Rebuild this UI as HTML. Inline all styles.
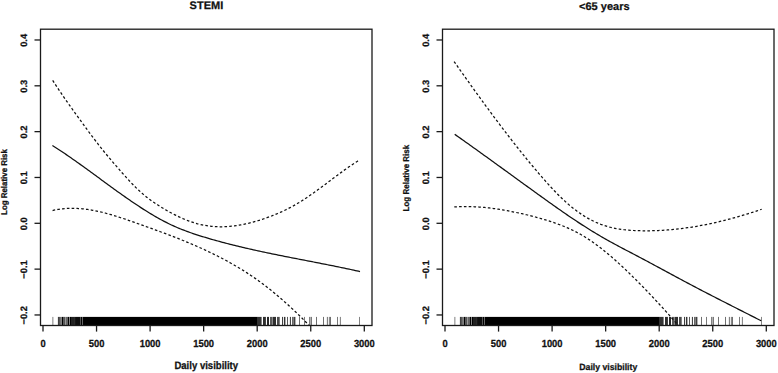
<!DOCTYPE html>
<html><head><meta charset="utf-8"><style>
html,body{margin:0;padding:0;background:#fff;}
body{width:778px;height:373px;overflow:hidden;}
svg{display:block;}
.t{font-family:"Liberation Sans",sans-serif;font-weight:bold;font-size:9.5px;fill:#111;stroke:#111;stroke-width:0.25px;text-rendering:geometricPrecision;}
</style></head><body>
<svg width="778" height="373" viewBox="0 0 778 373">
<rect width="778" height="373" fill="#fff"/>
<clipPath id="cl"><rect x="40.5" y="29.2" width="331.5" height="296.3"/></clipPath>
<rect x="52.30" y="316.9" width="1.10" height="8.40" fill="rgb(140,140,140)"/>
<rect x="57.90" y="316.9" width="2.00" height="8.40" fill="rgb(64,64,64)"/>
<rect x="59.90" y="316.9" width="2.00" height="8.40" fill="rgb(115,115,115)"/>
<rect x="62.00" y="316.9" width="1.10" height="8.40" fill="rgb(0,0,0)"/>
<rect x="63.10" y="316.9" width="0.60" height="8.40" fill="rgb(64,64,64)"/>
<rect x="63.70" y="316.9" width="1.00" height="8.40" fill="rgb(0,0,0)"/>
<rect x="64.90" y="316.9" width="1.10" height="8.40" fill="rgb(153,153,153)"/>
<rect x="66.00" y="316.9" width="2.00" height="8.40" fill="rgb(102,102,102)"/>
<rect x="68.00" y="316.9" width="1.10" height="8.40" fill="rgb(0,0,0)"/>
<rect x="69.10" y="316.9" width="0.80" height="8.40" fill="rgb(128,128,128)"/>
<rect x="69.90" y="316.9" width="1.10" height="8.40" fill="rgb(0,0,0)"/>
<rect x="71.00" y="316.9" width="3.10" height="8.40" fill="rgb(33,33,33)"/>
<rect x="74.10" y="316.9" width="1.90" height="8.40" fill="rgb(20,20,20)"/>
<rect x="76.00" y="316.9" width="4.00" height="8.40" fill="rgb(13,13,13)"/>
<rect x="80.00" y="316.9" width="0.70" height="8.40" fill="rgb(64,64,64)"/>
<rect x="80.70" y="316.9" width="1.50" height="8.40" fill="rgb(0,0,0)"/>
<rect x="82.20" y="316.9" width="0.80" height="8.40" fill="rgb(76,76,76)"/>
<rect x="83.00" y="316.9" width="174.80" height="8.40" fill="rgb(0,0,0)"/>
<rect x="257.80" y="316.9" width="3.80" height="8.40" fill="rgb(51,51,51)"/>
<rect x="263.00" y="316.9" width="2.90" height="8.40" fill="rgb(46,46,46)"/>
<rect x="267.00" y="316.9" width="2.00" height="8.40" fill="rgb(38,38,38)"/>
<rect x="270.00" y="316.9" width="2.70" height="8.40" fill="rgb(89,89,89)"/>
<rect x="273.00" y="316.9" width="3.00" height="8.40" fill="rgb(46,46,46)"/>
<rect x="277.00" y="316.9" width="2.70" height="8.40" fill="rgb(76,76,76)"/>
<rect x="282.00" y="316.9" width="1.00" height="8.40" fill="rgb(64,64,64)"/>
<rect x="283.90" y="316.9" width="1.50" height="8.40" fill="rgb(51,51,51)"/>
<rect x="287.00" y="316.9" width="1.00" height="8.40" fill="rgb(89,89,89)"/>
<rect x="289.90" y="316.9" width="1.00" height="8.40" fill="rgb(51,51,51)"/>
<rect x="292.00" y="316.9" width="1.40" height="8.40" fill="rgb(102,102,102)"/>
<rect x="293.50" y="316.9" width="1.90" height="8.40" fill="rgb(64,64,64)"/>
<rect x="299.00" y="316.9" width="0.80" height="8.40" fill="rgb(76,76,76)"/>
<rect x="304.10" y="316.9" width="0.80" height="8.40" fill="rgb(89,89,89)"/>
<rect x="309.10" y="316.9" width="1.10" height="8.40" fill="rgb(115,115,115)"/>
<rect x="310.70" y="316.9" width="1.00" height="8.40" fill="rgb(64,64,64)"/>
<rect x="316.10" y="316.9" width="0.80" height="8.40" fill="rgb(76,76,76)"/>
<rect x="323.10" y="316.9" width="0.80" height="8.40" fill="rgb(76,76,76)"/>
<rect x="326.90" y="316.9" width="0.80" height="8.40" fill="rgb(76,76,76)"/>
<rect x="328.90" y="316.9" width="0.80" height="8.40" fill="rgb(89,89,89)"/>
<rect x="330.00" y="316.9" width="0.80" height="8.40" fill="rgb(76,76,76)"/>
<rect x="337.10" y="316.9" width="0.80" height="8.40" fill="rgb(89,89,89)"/>
<rect x="339.90" y="316.9" width="0.80" height="8.40" fill="rgb(89,89,89)"/>
<rect x="359.20" y="316.9" width="0.80" height="8.40" fill="rgb(102,102,102)"/>
<g clip-path="url(#cl)" fill="none" stroke="#111" stroke-width="1.25" stroke-linecap="butt" stroke-linejoin="round">
<path d="M52.70,80.43 L54.24,82.81 L55.78,85.17 L57.32,87.50 L58.86,89.80 L60.41,92.09 L61.95,94.35 L63.49,96.60 L65.03,98.82 L66.57,101.03 L68.11,103.23 L69.65,105.41 L71.19,107.58 L72.74,109.74 L74.28,111.89 L75.82,114.03 L77.36,116.16 L78.90,118.29 L80.44,120.41 L81.98,122.53 L83.52,124.65 L85.07,126.76 L86.61,128.87 L88.15,130.98 L89.69,133.07 L91.23,135.15 L92.77,137.21 L94.31,139.24 L95.85,141.25 L97.39,143.24 L98.94,145.21 L100.48,147.16 L102.02,149.08 L103.56,150.99 L105.10,152.88 L106.64,154.75 L108.18,156.60 L109.72,158.44 L111.27,160.27 L112.81,162.08 L114.35,163.88 L115.89,165.67 L117.43,167.44 L118.97,169.21 L120.51,170.97 L122.05,172.72 L123.60,174.46 L125.14,176.18 L126.68,177.89 L128.22,179.57 L129.76,181.23 L131.30,182.87 L132.84,184.47 L134.38,186.05 L135.93,187.58 L137.47,189.08 L139.01,190.54 L140.55,191.96 L142.09,193.33 L143.63,194.65 L145.17,195.93 L146.71,197.17 L148.25,198.36 L149.80,199.52 L151.34,200.64 L152.88,201.73 L154.42,202.79 L155.96,203.82 L157.50,204.82 L159.04,205.81 L160.58,206.77 L162.13,207.72 L163.67,208.64 L165.21,209.56 L166.75,210.45 L168.29,211.32 L169.83,212.18 L171.37,213.02 L172.91,213.84 L174.46,214.63 L176.00,215.41 L177.54,216.16 L179.08,216.89 L180.62,217.60 L182.16,218.29 L183.70,218.96 L185.24,219.59 L186.78,220.21 L188.33,220.80 L189.87,221.36 L191.41,221.90 L192.95,222.41 L194.49,222.89 L196.03,223.35 L197.57,223.78 L199.11,224.17 L200.66,224.54 L202.20,224.88 L203.74,225.19 L205.28,225.47 L206.82,225.72 L208.36,225.95 L209.90,226.15 L211.44,226.32 L212.99,226.46 L214.53,226.57 L216.07,226.67 L217.61,226.73 L219.15,226.77 L220.69,226.78 L222.23,226.77 L223.77,226.74 L225.32,226.68 L226.86,226.60 L228.40,226.50 L229.94,226.37 L231.48,226.23 L233.02,226.06 L234.56,225.87 L236.10,225.66 L237.64,225.42 L239.19,225.17 L240.73,224.90 L242.27,224.61 L243.81,224.30 L245.35,223.98 L246.89,223.63 L248.43,223.27 L249.97,222.89 L251.52,222.50 L253.06,222.08 L254.60,221.66 L256.14,221.21 L257.68,220.75 L259.22,220.28 L260.76,219.79 L262.30,219.29 L263.85,218.78 L265.39,218.25 L266.93,217.71 L268.47,217.15 L270.01,216.58 L271.55,216.00 L273.09,215.40 L274.63,214.78 L276.17,214.15 L277.72,213.50 L279.26,212.83 L280.80,212.15 L282.34,211.45 L283.88,210.72 L285.42,209.98 L286.96,209.23 L288.50,208.45 L290.05,207.65 L291.59,206.83 L293.13,205.99 L294.67,205.13 L296.21,204.24 L297.75,203.33 L299.29,202.41 L300.83,201.45 L302.38,200.48 L303.92,199.49 L305.46,198.48 L307.00,197.45 L308.54,196.40 L310.08,195.34 L311.62,194.26 L313.16,193.18 L314.71,192.08 L316.25,190.96 L317.79,189.84 L319.33,188.71 L320.87,187.57 L322.41,186.43 L323.95,185.28 L325.49,184.13 L327.03,182.97 L328.58,181.81 L330.12,180.65 L331.66,179.50 L333.20,178.34 L334.74,177.19 L336.28,176.04 L337.82,174.89 L339.36,173.75 L340.91,172.62 L342.45,171.50 L343.99,170.38 L345.53,169.28 L347.07,168.19 L348.61,167.11 L350.15,166.05 L351.69,165.00 L353.24,163.97 L354.78,162.95 L356.32,161.95 L357.86,160.98 L359.40,160.02" stroke-dasharray="2.6 2.2"/>
<path d="M52.40,145.45 L53.95,146.43 L55.49,147.42 L57.04,148.42 L58.58,149.43 L60.13,150.45 L61.67,151.48 L63.22,152.52 L64.77,153.56 L66.31,154.62 L67.86,155.67 L69.40,156.74 L70.95,157.81 L72.49,158.89 L74.04,159.98 L75.59,161.07 L77.13,162.17 L78.68,163.27 L80.22,164.37 L81.77,165.48 L83.31,166.60 L84.86,167.72 L86.41,168.84 L87.95,169.96 L89.50,171.09 L91.04,172.21 L92.59,173.34 L94.13,174.47 L95.68,175.61 L97.23,176.74 L98.77,177.87 L100.32,179.01 L101.86,180.14 L103.41,181.27 L104.95,182.41 L106.50,183.54 L108.05,184.67 L109.59,185.79 L111.14,186.92 L112.68,188.04 L114.23,189.16 L115.77,190.28 L117.32,191.39 L118.87,192.50 L120.41,193.60 L121.96,194.70 L123.50,195.79 L125.05,196.88 L126.59,197.96 L128.14,199.04 L129.69,200.10 L131.23,201.17 L132.78,202.22 L134.32,203.26 L135.87,204.30 L137.42,205.33 L138.96,206.35 L140.51,207.36 L142.05,208.36 L143.60,209.35 L145.14,210.33 L146.69,211.29 L148.24,212.25 L149.78,213.19 L151.33,214.13 L152.87,215.04 L154.42,215.95 L155.96,216.84 L157.51,217.72 L159.06,218.59 L160.60,219.43 L162.15,220.27 L163.69,221.09 L165.24,221.89 L166.78,222.68 L168.33,223.45 L169.88,224.20 L171.42,224.94 L172.97,225.66 L174.51,226.36 L176.06,227.04 L177.60,227.70 L179.15,228.35 L180.70,228.98 L182.24,229.60 L183.79,230.20 L185.33,230.79 L186.88,231.37 L188.42,231.93 L189.97,232.48 L191.52,233.02 L193.06,233.55 L194.61,234.07 L196.15,234.58 L197.70,235.08 L199.24,235.57 L200.79,236.05 L202.34,236.53 L203.88,237.00 L205.43,237.47 L206.97,237.93 L208.52,238.39 L210.06,238.84 L211.61,239.28 L213.16,239.73 L214.70,240.16 L216.25,240.60 L217.79,241.02 L219.34,241.45 L220.88,241.87 L222.43,242.28 L223.98,242.69 L225.52,243.10 L227.07,243.50 L228.61,243.90 L230.16,244.30 L231.70,244.69 L233.25,245.07 L234.80,245.46 L236.34,245.84 L237.89,246.22 L239.43,246.59 L240.98,246.96 L242.52,247.33 L244.07,247.69 L245.62,248.05 L247.16,248.41 L248.71,248.76 L250.25,249.11 L251.80,249.46 L253.34,249.81 L254.89,250.15 L256.44,250.49 L257.98,250.83 L259.53,251.17 L261.07,251.50 L262.62,251.83 L264.16,252.16 L265.71,252.49 L267.26,252.81 L268.80,253.14 L270.35,253.46 L271.89,253.78 L273.44,254.09 L274.98,254.41 L276.53,254.73 L278.08,255.04 L279.62,255.35 L281.17,255.66 L282.71,255.97 L284.26,256.28 L285.81,256.58 L287.35,256.89 L288.90,257.20 L290.44,257.50 L291.99,257.80 L293.53,258.11 L295.08,258.41 L296.63,258.71 L298.17,259.01 L299.72,259.31 L301.26,259.61 L302.81,259.91 L304.35,260.21 L305.90,260.51 L307.45,260.81 L308.99,261.11 L310.54,261.41 L312.08,261.71 L313.63,262.01 L315.17,262.31 L316.72,262.61 L318.27,262.91 L319.81,263.22 L321.36,263.52 L322.90,263.82 L324.45,264.13 L325.99,264.43 L327.54,264.74 L329.09,265.05 L330.63,265.36 L332.18,265.67 L333.72,265.98 L335.27,266.29 L336.81,266.61 L338.36,266.92 L339.91,267.24 L341.45,267.56 L343.00,267.88 L344.54,268.20 L346.09,268.53 L347.63,268.85 L349.18,269.18 L350.73,269.51 L352.27,269.84 L353.82,270.18 L355.36,270.52 L356.91,270.86 L358.45,271.20 L360.00,271.55"/>
<path d="M52.60,210.52 L53.90,210.23 L55.20,209.96 L56.50,209.71 L57.79,209.48 L59.09,209.28 L60.39,209.09 L61.69,208.93 L62.99,208.79 L64.29,208.66 L65.58,208.56 L66.88,208.47 L68.18,208.41 L69.48,208.36 L70.78,208.33 L72.08,208.32 L73.38,208.33 L74.67,208.35 L75.97,208.39 L77.27,208.45 L78.57,208.52 L79.87,208.61 L81.17,208.72 L82.47,208.84 L83.76,208.97 L85.06,209.12 L86.36,209.29 L87.66,209.47 L88.96,209.66 L90.26,209.86 L91.55,210.08 L92.85,210.31 L94.15,210.56 L95.45,210.81 L96.75,211.08 L98.05,211.36 L99.35,211.65 L100.64,211.94 L101.94,212.25 L103.24,212.57 L104.54,212.90 L105.84,213.24 L107.14,213.59 L108.44,213.95 L109.73,214.31 L111.03,214.68 L112.33,215.06 L113.63,215.45 L114.93,215.85 L116.23,216.25 L117.52,216.65 L118.82,217.07 L120.12,217.49 L121.42,217.91 L122.72,218.34 L124.02,218.77 L125.32,219.21 L126.61,219.66 L127.91,220.10 L129.21,220.55 L130.51,221.00 L131.81,221.46 L133.11,221.91 L134.41,222.37 L135.70,222.83 L137.00,223.30 L138.30,223.76 L139.60,224.22 L140.90,224.69 L142.20,225.15 L143.49,225.62 L144.79,226.08 L146.09,226.55 L147.39,227.01 L148.69,227.48 L149.99,227.95 L151.29,228.42 L152.58,228.89 L153.88,229.36 L155.18,229.83 L156.48,230.31 L157.78,230.78 L159.08,231.26 L160.37,231.74 L161.67,232.22 L162.97,232.70 L164.27,233.19 L165.57,233.67 L166.87,234.16 L168.17,234.65 L169.46,235.15 L170.76,235.64 L172.06,236.14 L173.36,236.64 L174.66,237.15 L175.96,237.66 L177.26,238.17 L178.55,238.68 L179.85,239.20 L181.15,239.72 L182.45,240.24 L183.75,240.77 L185.05,241.30 L186.34,241.83 L187.64,242.37 L188.94,242.91 L190.24,243.46 L191.54,244.01 L192.84,244.56 L194.14,245.12 L195.43,245.68 L196.73,246.25 L198.03,246.82 L199.33,247.40 L200.63,247.98 L201.93,248.57 L203.23,249.16 L204.52,249.76 L205.82,250.36 L207.12,250.97 L208.42,251.58 L209.72,252.20 L211.02,252.82 L212.31,253.45 L213.61,254.09 L214.91,254.73 L216.21,255.38 L217.51,256.03 L218.81,256.69 L220.11,257.36 L221.40,258.03 L222.70,258.71 L224.00,259.40 L225.30,260.09 L226.60,260.80 L227.90,261.50 L229.19,262.22 L230.49,262.94 L231.79,263.68 L233.09,264.42 L234.39,265.17 L235.69,265.92 L236.99,266.69 L238.28,267.46 L239.58,268.24 L240.88,269.03 L242.18,269.83 L243.48,270.64 L244.78,271.46 L246.08,272.29 L247.37,273.13 L248.67,273.98 L249.97,274.84 L251.27,275.71 L252.57,276.59 L253.87,277.48 L255.16,278.38 L256.46,279.29 L257.76,280.21 L259.06,281.14 L260.36,282.09 L261.66,283.04 L262.96,284.01 L264.25,284.99 L265.55,285.98 L266.85,286.98 L268.15,287.99 L269.45,289.02 L270.75,290.06 L272.05,291.10 L273.34,292.16 L274.64,293.23 L275.94,294.31 L277.24,295.40 L278.54,296.51 L279.84,297.62 L281.13,298.74 L282.43,299.87 L283.73,301.02 L285.03,302.17 L286.33,303.34 L287.63,304.51 L288.93,305.69 L290.22,306.89 L291.52,308.09 L292.82,309.31 L294.12,310.53 L295.42,311.76 L296.72,313.00 L298.02,314.25 L299.31,315.51 L300.61,316.78 L301.91,318.06 L303.21,319.35 L304.51,320.64 L305.81,321.95 L307.10,323.26 L308.40,324.58 L309.70,325.91 L311.00,327.25" stroke-dasharray="2.6 2.2"/>
</g>
<rect x="40.5" y="29.2" width="331.5" height="296.3" fill="none" stroke="#1a1a1a" stroke-width="1.3"/>
<line x1="34.5" y1="39.98" x2="40.5" y2="39.98" stroke="#1a1a1a" stroke-width="1.3"/>
<text transform="translate(26.90 40.38) rotate(-90)" text-anchor="middle" class="t" style="font-size:9.3px">0.4</text>
<line x1="34.5" y1="85.81" x2="40.5" y2="85.81" stroke="#1a1a1a" stroke-width="1.3"/>
<text transform="translate(26.90 86.21) rotate(-90)" text-anchor="middle" class="t" style="font-size:9.3px">0.3</text>
<line x1="34.5" y1="131.64" x2="40.5" y2="131.64" stroke="#1a1a1a" stroke-width="1.3"/>
<text transform="translate(26.90 132.04) rotate(-90)" text-anchor="middle" class="t" style="font-size:9.3px">0.2</text>
<line x1="34.5" y1="177.47" x2="40.5" y2="177.47" stroke="#1a1a1a" stroke-width="1.3"/>
<text transform="translate(26.90 177.87) rotate(-90)" text-anchor="middle" class="t" style="font-size:9.3px">0.1</text>
<line x1="34.5" y1="223.30" x2="40.5" y2="223.30" stroke="#1a1a1a" stroke-width="1.3"/>
<text transform="translate(26.90 223.70) rotate(-90)" text-anchor="middle" class="t" style="font-size:9.3px">0.0</text>
<line x1="34.5" y1="269.13" x2="40.5" y2="269.13" stroke="#1a1a1a" stroke-width="1.3"/>
<text transform="translate(26.90 269.53) rotate(-90)" text-anchor="middle" class="t" style="font-size:9.3px">−0.1</text>
<line x1="34.5" y1="314.96" x2="40.5" y2="314.96" stroke="#1a1a1a" stroke-width="1.3"/>
<text transform="translate(26.90 315.36) rotate(-90)" text-anchor="middle" class="t" style="font-size:9.3px">−0.2</text>
<line x1="43.00" y1="325.5" x2="43.00" y2="331.6" stroke="#1a1a1a" stroke-width="1.3"/>
<text transform="translate(43.00 346.60) scale(1 1.1)" text-anchor="middle" class="t" style="font-size:9.4px">0</text>
<line x1="96.55" y1="325.5" x2="96.55" y2="331.6" stroke="#1a1a1a" stroke-width="1.3"/>
<text transform="translate(96.55 346.60) scale(1 1.1)" text-anchor="middle" class="t" style="font-size:9.4px">500</text>
<line x1="150.10" y1="325.5" x2="150.10" y2="331.6" stroke="#1a1a1a" stroke-width="1.3"/>
<text transform="translate(150.10 346.60) scale(1 1.1)" text-anchor="middle" class="t" style="font-size:9.4px">1000</text>
<line x1="203.65" y1="325.5" x2="203.65" y2="331.6" stroke="#1a1a1a" stroke-width="1.3"/>
<text transform="translate(203.65 346.60) scale(1 1.1)" text-anchor="middle" class="t" style="font-size:9.4px">1500</text>
<line x1="257.20" y1="325.5" x2="257.20" y2="331.6" stroke="#1a1a1a" stroke-width="1.3"/>
<text transform="translate(257.20 346.60) scale(1 1.1)" text-anchor="middle" class="t" style="font-size:9.4px">2000</text>
<line x1="310.75" y1="325.5" x2="310.75" y2="331.6" stroke="#1a1a1a" stroke-width="1.3"/>
<text transform="translate(310.75 346.60) scale(1 1.1)" text-anchor="middle" class="t" style="font-size:9.4px">2500</text>
<line x1="364.30" y1="325.5" x2="364.30" y2="331.6" stroke="#1a1a1a" stroke-width="1.3"/>
<text transform="translate(364.30 346.60) scale(1 1.1)" text-anchor="middle" class="t" style="font-size:9.4px">3000</text>
<text transform="translate(206.40 8.90)" text-anchor="middle" class="t" style="font-size:11px">STEMI</text>
<text transform="translate(7.10 182.00) rotate(-90) scale(1 1.06)" text-anchor="middle" class="t" style="font-size:7.9px">Log Relative Risk</text>
<text transform="translate(206.25 368.80) scale(1 1.12)" text-anchor="middle" class="t" style="font-size:9.55px">Daily visibility</text>
<clipPath id="cr"><rect x="442.5" y="29.2" width="331.5" height="296.3"/></clipPath>
<rect x="454.30" y="316.9" width="1.10" height="8.40" fill="rgb(140,140,140)"/>
<rect x="459.90" y="316.9" width="2.00" height="8.40" fill="rgb(64,64,64)"/>
<rect x="461.90" y="316.9" width="2.00" height="8.40" fill="rgb(115,115,115)"/>
<rect x="464.00" y="316.9" width="1.10" height="8.40" fill="rgb(0,0,0)"/>
<rect x="465.10" y="316.9" width="0.60" height="8.40" fill="rgb(64,64,64)"/>
<rect x="465.70" y="316.9" width="1.00" height="8.40" fill="rgb(0,0,0)"/>
<rect x="466.90" y="316.9" width="1.10" height="8.40" fill="rgb(153,153,153)"/>
<rect x="468.00" y="316.9" width="2.00" height="8.40" fill="rgb(102,102,102)"/>
<rect x="470.00" y="316.9" width="1.10" height="8.40" fill="rgb(0,0,0)"/>
<rect x="471.10" y="316.9" width="0.80" height="8.40" fill="rgb(128,128,128)"/>
<rect x="471.90" y="316.9" width="1.10" height="8.40" fill="rgb(0,0,0)"/>
<rect x="473.00" y="316.9" width="3.10" height="8.40" fill="rgb(33,33,33)"/>
<rect x="476.10" y="316.9" width="1.90" height="8.40" fill="rgb(20,20,20)"/>
<rect x="478.00" y="316.9" width="4.00" height="8.40" fill="rgb(13,13,13)"/>
<rect x="482.00" y="316.9" width="0.70" height="8.40" fill="rgb(64,64,64)"/>
<rect x="482.70" y="316.9" width="1.50" height="8.40" fill="rgb(0,0,0)"/>
<rect x="484.20" y="316.9" width="0.80" height="8.40" fill="rgb(76,76,76)"/>
<rect x="485.00" y="316.9" width="174.80" height="8.40" fill="rgb(0,0,0)"/>
<rect x="659.80" y="316.9" width="3.80" height="8.40" fill="rgb(51,51,51)"/>
<rect x="665.00" y="316.9" width="2.90" height="8.40" fill="rgb(46,46,46)"/>
<rect x="669.00" y="316.9" width="2.00" height="8.40" fill="rgb(38,38,38)"/>
<rect x="672.00" y="316.9" width="2.70" height="8.40" fill="rgb(89,89,89)"/>
<rect x="675.00" y="316.9" width="3.00" height="8.40" fill="rgb(46,46,46)"/>
<rect x="679.00" y="316.9" width="2.70" height="8.40" fill="rgb(76,76,76)"/>
<rect x="684.00" y="316.9" width="1.00" height="8.40" fill="rgb(64,64,64)"/>
<rect x="685.90" y="316.9" width="1.50" height="8.40" fill="rgb(51,51,51)"/>
<rect x="689.00" y="316.9" width="1.00" height="8.40" fill="rgb(89,89,89)"/>
<rect x="691.90" y="316.9" width="1.00" height="8.40" fill="rgb(51,51,51)"/>
<rect x="694.00" y="316.9" width="1.40" height="8.40" fill="rgb(102,102,102)"/>
<rect x="695.50" y="316.9" width="1.90" height="8.40" fill="rgb(64,64,64)"/>
<rect x="701.00" y="316.9" width="0.80" height="8.40" fill="rgb(76,76,76)"/>
<rect x="706.10" y="316.9" width="0.80" height="8.40" fill="rgb(89,89,89)"/>
<rect x="711.10" y="316.9" width="1.10" height="8.40" fill="rgb(115,115,115)"/>
<rect x="712.70" y="316.9" width="1.00" height="8.40" fill="rgb(64,64,64)"/>
<rect x="718.10" y="316.9" width="0.80" height="8.40" fill="rgb(76,76,76)"/>
<rect x="725.10" y="316.9" width="0.80" height="8.40" fill="rgb(76,76,76)"/>
<rect x="728.90" y="316.9" width="0.80" height="8.40" fill="rgb(76,76,76)"/>
<rect x="730.90" y="316.9" width="0.80" height="8.40" fill="rgb(89,89,89)"/>
<rect x="732.00" y="316.9" width="0.80" height="8.40" fill="rgb(76,76,76)"/>
<rect x="739.10" y="316.9" width="0.80" height="8.40" fill="rgb(89,89,89)"/>
<rect x="741.90" y="316.9" width="0.80" height="8.40" fill="rgb(89,89,89)"/>
<rect x="761.20" y="316.9" width="0.80" height="8.40" fill="rgb(102,102,102)"/>
<g clip-path="url(#cr)" fill="none" stroke="#111" stroke-width="1.25" stroke-linecap="butt" stroke-linejoin="round">
<path d="M454.10,61.52 L455.65,63.72 L457.19,65.92 L458.74,68.12 L460.28,70.31 L461.83,72.50 L463.37,74.69 L464.92,76.87 L466.47,79.04 L468.01,81.22 L469.56,83.38 L471.10,85.54 L472.65,87.70 L474.19,89.86 L475.74,92.00 L477.29,94.14 L478.83,96.28 L480.38,98.41 L481.92,100.54 L483.47,102.66 L485.01,104.77 L486.56,106.88 L488.11,108.98 L489.65,111.07 L491.20,113.16 L492.74,115.24 L494.29,117.32 L495.83,119.38 L497.38,121.44 L498.93,123.50 L500.47,125.54 L502.02,127.58 L503.56,129.61 L505.11,131.63 L506.65,133.65 L508.20,135.65 L509.75,137.65 L511.29,139.64 L512.84,141.62 L514.38,143.59 L515.93,145.55 L517.47,147.51 L519.02,149.45 L520.57,151.39 L522.11,153.31 L523.66,155.23 L525.20,157.13 L526.75,159.03 L528.29,160.92 L529.84,162.79 L531.39,164.66 L532.93,166.51 L534.48,168.36 L536.02,170.19 L537.57,172.02 L539.12,173.83 L540.66,175.62 L542.21,177.41 L543.75,179.18 L545.30,180.93 L546.84,182.66 L548.39,184.38 L549.94,186.07 L551.48,187.74 L553.03,189.39 L554.57,191.02 L556.12,192.62 L557.66,194.19 L559.21,195.74 L560.76,197.26 L562.30,198.75 L563.85,200.21 L565.39,201.63 L566.94,203.02 L568.48,204.38 L570.03,205.70 L571.58,206.99 L573.12,208.23 L574.67,209.44 L576.21,210.61 L577.76,211.74 L579.30,212.83 L580.85,213.89 L582.40,214.91 L583.94,215.90 L585.49,216.84 L587.03,217.75 L588.58,218.63 L590.12,219.47 L591.67,220.27 L593.22,221.04 L594.76,221.78 L596.31,222.48 L597.85,223.14 L599.40,223.77 L600.94,224.37 L602.49,224.93 L604.04,225.46 L605.58,225.96 L607.13,226.43 L608.67,226.86 L610.22,227.27 L611.76,227.65 L613.31,228.00 L614.86,228.32 L616.40,228.62 L617.95,228.89 L619.49,229.14 L621.04,229.36 L622.58,229.57 L624.13,229.75 L625.68,229.92 L627.22,230.07 L628.77,230.20 L630.31,230.31 L631.86,230.41 L633.40,230.50 L634.95,230.57 L636.50,230.64 L638.04,230.69 L639.59,230.73 L641.13,230.76 L642.68,230.78 L644.22,230.79 L645.77,230.80 L647.32,230.80 L648.86,230.78 L650.41,230.76 L651.95,230.73 L653.50,230.69 L655.04,230.64 L656.59,230.59 L658.14,230.52 L659.68,230.45 L661.23,230.36 L662.77,230.27 L664.32,230.18 L665.86,230.07 L667.41,229.95 L668.96,229.83 L670.50,229.70 L672.05,229.56 L673.59,229.41 L675.14,229.25 L676.68,229.09 L678.23,228.92 L679.78,228.74 L681.32,228.55 L682.87,228.36 L684.41,228.15 L685.96,227.94 L687.51,227.72 L689.05,227.50 L690.60,227.26 L692.14,227.02 L693.69,226.77 L695.23,226.52 L696.78,226.26 L698.33,225.99 L699.87,225.71 L701.42,225.42 L702.96,225.13 L704.51,224.83 L706.05,224.53 L707.60,224.21 L709.15,223.89 L710.69,223.57 L712.24,223.23 L713.78,222.89 L715.33,222.55 L716.87,222.19 L718.42,221.83 L719.97,221.46 L721.51,221.09 L723.06,220.71 L724.60,220.32 L726.15,219.93 L727.69,219.53 L729.24,219.13 L730.79,218.71 L732.33,218.30 L733.88,217.87 L735.42,217.44 L736.97,217.00 L738.51,216.56 L740.06,216.11 L741.61,215.66 L743.15,215.20 L744.70,214.73 L746.24,214.26 L747.79,213.78 L749.33,213.30 L750.88,212.81 L752.43,212.32 L753.97,211.82 L755.52,211.31 L757.06,210.80 L758.61,210.29 L760.15,209.77 L761.70,209.24" stroke-dasharray="2.6 2.2"/>
<path d="M454.70,134.29 L456.24,135.37 L457.78,136.46 L459.32,137.54 L460.86,138.63 L462.40,139.72 L463.94,140.81 L465.48,141.91 L467.02,143.00 L468.56,144.10 L470.10,145.20 L471.64,146.30 L473.18,147.40 L474.72,148.50 L476.26,149.60 L477.80,150.71 L479.34,151.81 L480.88,152.92 L482.42,154.03 L483.96,155.14 L485.50,156.25 L487.04,157.36 L488.58,158.47 L490.12,159.58 L491.66,160.69 L493.21,161.81 L494.75,162.92 L496.29,164.04 L497.83,165.15 L499.37,166.27 L500.91,167.38 L502.45,168.50 L503.99,169.62 L505.53,170.74 L507.07,171.85 L508.61,172.97 L510.15,174.09 L511.69,175.21 L513.23,176.32 L514.77,177.44 L516.31,178.56 L517.85,179.68 L519.39,180.79 L520.93,181.91 L522.47,183.03 L524.01,184.14 L525.55,185.26 L527.09,186.37 L528.63,187.49 L530.17,188.60 L531.71,189.71 L533.25,190.83 L534.79,191.94 L536.33,193.05 L537.87,194.16 L539.41,195.27 L540.95,196.37 L542.49,197.48 L544.03,198.59 L545.57,199.69 L547.11,200.80 L548.65,201.90 L550.19,203.00 L551.73,204.09 L553.27,205.19 L554.81,206.28 L556.35,207.37 L557.89,208.45 L559.43,209.54 L560.97,210.61 L562.51,211.69 L564.05,212.75 L565.59,213.82 L567.13,214.88 L568.67,215.93 L570.22,216.97 L571.76,218.02 L573.30,219.05 L574.84,220.08 L576.38,221.10 L577.92,222.11 L579.46,223.12 L581.00,224.12 L582.54,225.11 L584.08,226.09 L585.62,227.07 L587.16,228.04 L588.70,229.01 L590.24,229.96 L591.78,230.91 L593.32,231.85 L594.86,232.79 L596.40,233.71 L597.94,234.63 L599.48,235.54 L601.02,236.44 L602.56,237.34 L604.10,238.22 L605.64,239.10 L607.18,239.97 L608.72,240.83 L610.26,241.69 L611.80,242.54 L613.34,243.38 L614.88,244.21 L616.42,245.04 L617.96,245.87 L619.50,246.69 L621.04,247.51 L622.58,248.33 L624.12,249.14 L625.66,249.95 L627.20,250.76 L628.74,251.56 L630.28,252.37 L631.82,253.17 L633.36,253.98 L634.90,254.78 L636.44,255.59 L637.98,256.40 L639.52,257.21 L641.06,258.02 L642.60,258.84 L644.14,259.65 L645.68,260.47 L647.23,261.29 L648.77,262.12 L650.31,262.94 L651.85,263.77 L653.39,264.60 L654.93,265.43 L656.47,266.26 L658.01,267.09 L659.55,267.92 L661.09,268.75 L662.63,269.58 L664.17,270.42 L665.71,271.25 L667.25,272.08 L668.79,272.92 L670.33,273.75 L671.87,274.58 L673.41,275.41 L674.95,276.25 L676.49,277.08 L678.03,277.90 L679.57,278.73 L681.11,279.56 L682.65,280.38 L684.19,281.21 L685.73,282.03 L687.27,282.85 L688.81,283.66 L690.35,284.48 L691.89,285.29 L693.43,286.10 L694.97,286.91 L696.51,287.72 L698.05,288.53 L699.59,289.33 L701.13,290.13 L702.67,290.93 L704.21,291.73 L705.75,292.53 L707.29,293.33 L708.83,294.13 L710.37,294.92 L711.91,295.71 L713.45,296.50 L714.99,297.30 L716.53,298.09 L718.07,298.87 L719.61,299.66 L721.15,300.45 L722.69,301.24 L724.24,302.02 L725.78,302.81 L727.32,303.59 L728.86,304.38 L730.40,305.16 L731.94,305.94 L733.48,306.72 L735.02,307.51 L736.56,308.29 L738.10,309.07 L739.64,309.85 L741.18,310.63 L742.72,311.41 L744.26,312.19 L745.80,312.98 L747.34,313.76 L748.88,314.54 L750.42,315.32 L751.96,316.10 L753.50,316.88 L755.04,317.67 L756.58,318.45 L758.12,319.23 L759.66,320.02 L761.20,320.80"/>
<path d="M454.30,206.94 L455.43,206.87 L456.55,206.81 L457.68,206.75 L458.81,206.71 L459.93,206.67 L461.06,206.64 L462.19,206.61 L463.31,206.59 L464.44,206.58 L465.57,206.57 L466.69,206.57 L467.82,206.58 L468.95,206.60 L470.07,206.62 L471.20,206.65 L472.33,206.68 L473.45,206.72 L474.58,206.77 L475.71,206.82 L476.83,206.88 L477.96,206.95 L479.09,207.02 L480.21,207.10 L481.34,207.19 L482.47,207.28 L483.59,207.37 L484.72,207.48 L485.85,207.59 L486.97,207.70 L488.10,207.82 L489.23,207.95 L490.35,208.08 L491.48,208.22 L492.61,208.37 L493.73,208.52 L494.86,208.67 L495.99,208.83 L497.11,209.00 L498.24,209.17 L499.37,209.35 L500.49,209.53 L501.62,209.72 L502.75,209.91 L503.87,210.11 L505.00,210.30 L506.13,210.51 L507.25,210.72 L508.38,210.93 L509.51,211.14 L510.63,211.36 L511.76,211.58 L512.88,211.81 L514.01,212.04 L515.14,212.27 L516.26,212.50 L517.39,212.74 L518.52,212.97 L519.64,213.22 L520.77,213.46 L521.90,213.71 L523.02,213.96 L524.15,214.22 L525.28,214.48 L526.40,214.74 L527.53,215.01 L528.66,215.28 L529.78,215.56 L530.91,215.83 L532.04,216.12 L533.16,216.41 L534.29,216.70 L535.42,217.00 L536.54,217.30 L537.67,217.60 L538.80,217.91 L539.92,218.23 L541.05,218.55 L542.18,218.88 L543.30,219.21 L544.43,219.55 L545.56,219.89 L546.68,220.24 L547.81,220.59 L548.94,220.95 L550.06,221.31 L551.19,221.69 L552.32,222.06 L553.44,222.45 L554.57,222.84 L555.70,223.23 L556.82,223.64 L557.95,224.05 L559.08,224.47 L560.20,224.89 L561.33,225.33 L562.46,225.77 L563.58,226.22 L564.71,226.69 L565.84,227.16 L566.96,227.64 L568.09,228.13 L569.22,228.63 L570.34,229.15 L571.47,229.67 L572.60,230.21 L573.72,230.76 L574.85,231.32 L575.98,231.90 L577.10,232.49 L578.23,233.09 L579.36,233.70 L580.48,234.33 L581.61,234.98 L582.74,235.64 L583.86,236.31 L584.99,237.00 L586.12,237.70 L587.24,238.42 L588.37,239.15 L589.50,239.89 L590.62,240.65 L591.75,241.43 L592.88,242.21 L594.00,243.01 L595.13,243.82 L596.26,244.64 L597.38,245.48 L598.51,246.32 L599.64,247.18 L600.76,248.05 L601.89,248.93 L603.02,249.83 L604.14,250.73 L605.27,251.64 L606.40,252.57 L607.52,253.50 L608.65,254.45 L609.78,255.40 L610.90,256.37 L612.03,257.34 L613.16,258.32 L614.28,259.32 L615.41,260.32 L616.54,261.32 L617.66,262.34 L618.79,263.37 L619.92,264.40 L621.04,265.44 L622.17,266.49 L623.29,267.54 L624.42,268.60 L625.55,269.67 L626.67,270.75 L627.80,271.83 L628.93,272.92 L630.05,274.01 L631.18,275.11 L632.31,276.21 L633.43,277.32 L634.56,278.44 L635.69,279.56 L636.81,280.68 L637.94,281.81 L639.07,282.95 L640.19,284.09 L641.32,285.23 L642.45,286.38 L643.57,287.54 L644.70,288.70 L645.83,289.87 L646.95,291.04 L648.08,292.21 L649.21,293.39 L650.33,294.58 L651.46,295.77 L652.59,296.96 L653.71,298.16 L654.84,299.36 L655.97,300.57 L657.09,301.79 L658.22,303.01 L659.35,304.23 L660.47,305.46 L661.60,306.69 L662.73,307.93 L663.85,309.17 L664.98,310.41 L666.11,311.67 L667.23,312.92 L668.36,314.18 L669.49,315.45 L670.61,316.71 L671.74,317.99 L672.87,319.27 L673.99,320.55 L675.12,321.84 L676.25,323.13 L677.37,324.42 L678.50,325.72" stroke-dasharray="2.6 2.2"/>
</g>
<rect x="442.5" y="29.2" width="331.5" height="296.3" fill="none" stroke="#1a1a1a" stroke-width="1.3"/>
<line x1="436.5" y1="39.98" x2="442.5" y2="39.98" stroke="#1a1a1a" stroke-width="1.3"/>
<text transform="translate(428.90 40.38) rotate(-90)" text-anchor="middle" class="t" style="font-size:9.3px">0.4</text>
<line x1="436.5" y1="85.81" x2="442.5" y2="85.81" stroke="#1a1a1a" stroke-width="1.3"/>
<text transform="translate(428.90 86.21) rotate(-90)" text-anchor="middle" class="t" style="font-size:9.3px">0.3</text>
<line x1="436.5" y1="131.64" x2="442.5" y2="131.64" stroke="#1a1a1a" stroke-width="1.3"/>
<text transform="translate(428.90 132.04) rotate(-90)" text-anchor="middle" class="t" style="font-size:9.3px">0.2</text>
<line x1="436.5" y1="177.47" x2="442.5" y2="177.47" stroke="#1a1a1a" stroke-width="1.3"/>
<text transform="translate(428.90 177.87) rotate(-90)" text-anchor="middle" class="t" style="font-size:9.3px">0.1</text>
<line x1="436.5" y1="223.30" x2="442.5" y2="223.30" stroke="#1a1a1a" stroke-width="1.3"/>
<text transform="translate(428.90 223.70) rotate(-90)" text-anchor="middle" class="t" style="font-size:9.3px">0.0</text>
<line x1="436.5" y1="269.13" x2="442.5" y2="269.13" stroke="#1a1a1a" stroke-width="1.3"/>
<text transform="translate(428.90 269.53) rotate(-90)" text-anchor="middle" class="t" style="font-size:9.3px">−0.1</text>
<line x1="436.5" y1="314.96" x2="442.5" y2="314.96" stroke="#1a1a1a" stroke-width="1.3"/>
<text transform="translate(428.90 315.36) rotate(-90)" text-anchor="middle" class="t" style="font-size:9.3px">−0.2</text>
<line x1="445.00" y1="325.5" x2="445.00" y2="331.6" stroke="#1a1a1a" stroke-width="1.3"/>
<text transform="translate(445.00 346.60) scale(1 1.1)" text-anchor="middle" class="t" style="font-size:9.4px">0</text>
<line x1="498.55" y1="325.5" x2="498.55" y2="331.6" stroke="#1a1a1a" stroke-width="1.3"/>
<text transform="translate(498.55 346.60) scale(1 1.1)" text-anchor="middle" class="t" style="font-size:9.4px">500</text>
<line x1="552.10" y1="325.5" x2="552.10" y2="331.6" stroke="#1a1a1a" stroke-width="1.3"/>
<text transform="translate(552.10 346.60) scale(1 1.1)" text-anchor="middle" class="t" style="font-size:9.4px">1000</text>
<line x1="605.65" y1="325.5" x2="605.65" y2="331.6" stroke="#1a1a1a" stroke-width="1.3"/>
<text transform="translate(605.65 346.60) scale(1 1.1)" text-anchor="middle" class="t" style="font-size:9.4px">1500</text>
<line x1="659.20" y1="325.5" x2="659.20" y2="331.6" stroke="#1a1a1a" stroke-width="1.3"/>
<text transform="translate(659.20 346.60) scale(1 1.1)" text-anchor="middle" class="t" style="font-size:9.4px">2000</text>
<line x1="712.75" y1="325.5" x2="712.75" y2="331.6" stroke="#1a1a1a" stroke-width="1.3"/>
<text transform="translate(712.75 346.60) scale(1 1.1)" text-anchor="middle" class="t" style="font-size:9.4px">2500</text>
<line x1="766.30" y1="325.5" x2="766.30" y2="331.6" stroke="#1a1a1a" stroke-width="1.3"/>
<text transform="translate(766.30 346.60) scale(1 1.1)" text-anchor="middle" class="t" style="font-size:9.4px">3000</text>
<text transform="translate(604.30 9.65)" text-anchor="middle" class="t" style="font-size:11px">&lt;65 years</text>
<text transform="translate(409.10 178.10) rotate(-90) scale(1 1.06)" text-anchor="middle" class="t" style="font-size:8.0px">Log Relative Risk</text>
<text transform="translate(608.25 369.80) scale(1 1.04)" text-anchor="middle" class="t" style="font-size:8.7px">Daily visibility</text>
</svg>
</body></html>
